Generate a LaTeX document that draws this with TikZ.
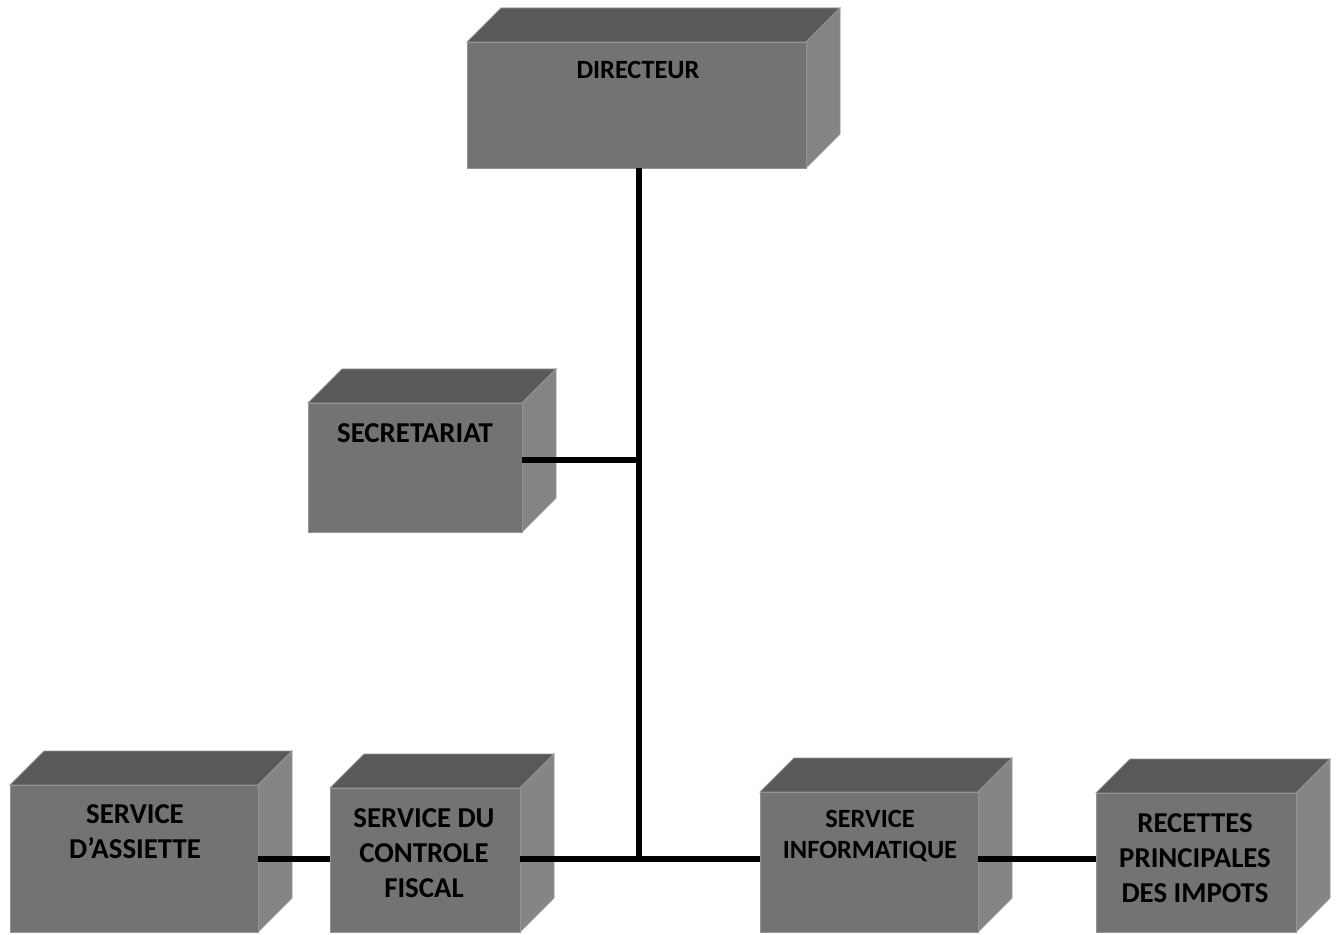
\documentclass[tikz,border=0pt]{standalone}
\usepackage{fontspec}
\setmainfont{Carlito}
\usetikzlibrary{calc,fit}
\colorlet{frontgray}{black!55}
\colorlet{topgray}{black!65}
\colorlet{sidegray}{black!48}

\begin{document}
\begin{tikzpicture}[x=0.02cm,y=-0.02cm,
	front/.style={draw=black!42,line width=.5pt,fill=frontgray,inner sep=0pt},
	topface/.style={draw=black!42,line width=.5pt,fill=topgray},
	sideface/.style={draw=black!42,line width=.5pt,fill=sidegray},
	big/.style={font=\bfseries\fontsize{16.4}{19.8}\selectfont,align=center},
	small/.style={font=\bfseries\fontsize{15}{18.1}\selectfont,align=center},
	link/.style={line width=3.1pt}]
				\useasboundingbox (0,0) rectangle (1338,935);
				%% boxes: front face from corners, top and side faces drawn in the loop
				\foreach \n/\xa/\ya/\xb/\yb in {dir/467/42/806/168, sec/308/403/522/532, ass/10/785/258/932, ctl/330/788/520/932, inf/760/792/978/932, rec/1096/793/1296/932}{
					\path[topface] (\xa,\ya) -- ++(34,-34) -- (\xb+34,\ya-34) -- (\xb,\ya) -- cycle;
					\path[sideface] (\xb,\ya) -- ++(34,-34) -- (\xb+34,\yb-34) -- (\xb,\yb) -- cycle;
					\node[front,fit={(\xa,\ya) (\xb,\yb)}] (\n) {};
					}

				%texts placed by hand
				\node[small] (tdir) at (638,70) {DIRECTEUR};
				\node[big] (tsec) at (415,433) {SECRETARIAT};
				\node[big] (tass) at (135,832) {SERVICE\\D’ASSIETTE};
				\node[big] (tctl) at (424,853) {SERVICE DU\\CONTROLE\\FISCAL};
				\node[small] (tinf) at (870,836) {SERVICE\\INFORMATIQUE};
				\node[big] (trec) at (1195,858) {RECETTES\\PRINCIPALES\\DES IMPOTS};

				\coordinate (jsec) at (639,460);
				\coordinate (jbot) at (639,859);

				\draw[link] (dir.south -| jbot)--(jbot);
				\draw[link] (sec.east |- jsec)--(jsec);
				\draw[link] (ass.east |- jbot)--(ctl.west |- jbot);
				\draw[link] (ctl.east |- jbot)--(inf.west |- jbot);
				\draw[link] (inf.east |- jbot)--(rec.west |- jbot);
\end{tikzpicture}
\end{document}
